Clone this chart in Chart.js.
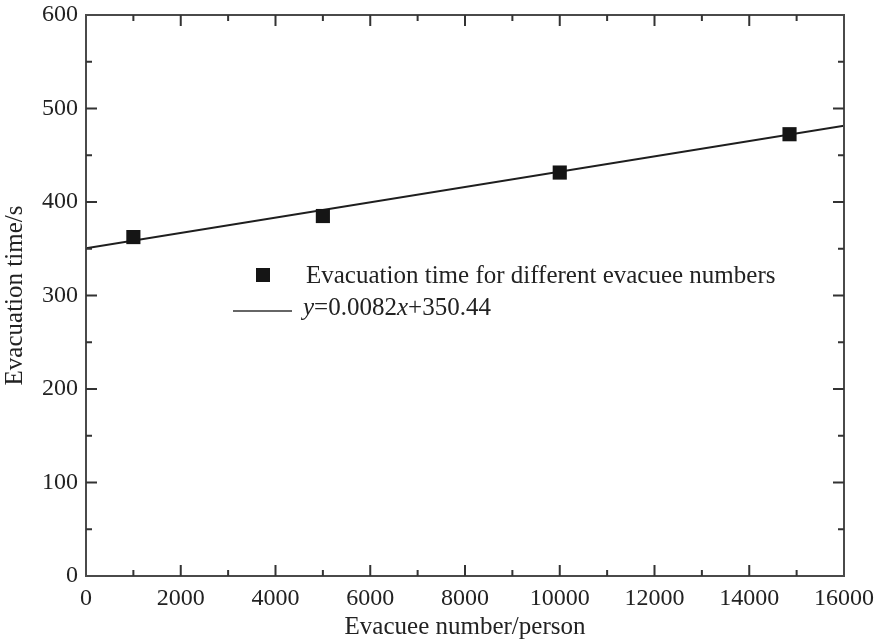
<!DOCTYPE html>
<html>
<head>
<meta charset="utf-8">
<script src="https://cdn.jsdelivr.net/npm/chart.js@4/dist/chart.umd.min.js"></script>
<style>
html, body { margin: 0; padding: 0; background: #fff; }
</style>
</head>
<body>
<canvas id="chart" width="880" height="642"></canvas>
<script>
const evacueeNumbers = [1000, 5000, 10000, 14850]
const evacuationTimes = [362.5, 385, 431.5, 472.5]
const fitSlope = 0.0082
const fitIntercept = 350.44
const fitRange = [0, 16000]
const xTicks = [0, 2000, 4000, 6000, 8000, 10000, 12000, 14000, 16000]
const yTicks = [0, 100, 200, 300, 400, 500, 600]

const serif = "'Liberation Serif', 'Times New Roman', serif"
const tickSize = 24
const textSize = 25

const pointData = evacueeNumbers.map((v, i) => ({ x: v, y: evacuationTimes[i] }))
const fitData = fitRange.map(v => ({ x: v, y: fitSlope * v + fitIntercept }))

// frame, inward ticks on all four sides, and the legend box
const frame = {
    id: "frame",
    afterDatasetsDraw(chart) {
        const { ctx, chartArea: a, scales } = chart
        const x = scales.x, y = scales.y
        ctx.save()
        ctx.strokeStyle = "#4a4a4a"
        ctx.lineWidth = 2
        ctx.strokeRect(a.left, a.top, a.right - a.left, a.bottom - a.top)

        const major = 11, minor = 6
        ctx.strokeStyle = "#333"
        ctx.beginPath()
        xTicks.forEach((v, i) => {
            const px = x.getPixelForValue(v)
            if (i > 0 && i < xTicks.length - 1) {
                ctx.moveTo(px, a.bottom); ctx.lineTo(px, a.bottom - major)
                ctx.moveTo(px, a.top); ctx.lineTo(px, a.top + major)
            }
            if (i < xTicks.length - 1) {
                const mx = x.getPixelForValue((v + xTicks[i + 1]) / 2)
                ctx.moveTo(mx, a.bottom); ctx.lineTo(mx, a.bottom - minor)
                ctx.moveTo(mx, a.top); ctx.lineTo(mx, a.top + minor)
            }
        })
        yTicks.forEach((v, i) => {
            const py = y.getPixelForValue(v)
            if (i > 0 && i < yTicks.length - 1) {
                ctx.moveTo(a.left, py); ctx.lineTo(a.left + major, py)
                ctx.moveTo(a.right, py); ctx.lineTo(a.right - major, py)
            }
            if (i < yTicks.length - 1) {
                const my = y.getPixelForValue((v + yTicks[i + 1]) / 2)
                ctx.moveTo(a.left, my); ctx.lineTo(a.left + minor, my)
                ctx.moveTo(a.right, my); ctx.lineTo(a.right - minor, my)
            }
        })
        ctx.stroke()

        // legend
        const pts = chart.data.datasets[0]
        ctx.fillStyle = pts.backgroundColor
        ctx.fillRect(256, 268, 14, 14)
        ctx.fillStyle = "#222"
        ctx.textBaseline = "middle"
        ctx.font = textSize + "px " + serif
        ctx.fillText(pts.label, 306, 276)

        ctx.strokeStyle = "#333"
        ctx.lineWidth = 1.5
        ctx.beginPath()
        ctx.moveTo(233, 311); ctx.lineTo(292, 311)
        ctx.stroke()

        const parts = [["y", true], ["=" + fitSlope.toFixed(4), false], ["x", true], ["+" + fitIntercept.toFixed(2), false]]
        let tx = 303
        parts.forEach(([s, italic]) => {
            ctx.font = (italic ? "italic " : "") + textSize + "px " + serif
            ctx.fillText(s, tx, 308)
            tx += ctx.measureText(s).width
        })
        ctx.restore()
    }
}

new Chart(document.getElementById("chart"), {
    type: "scatter",
    data: {
        datasets: [
            {
                label: "Evacuation time for different evacuee numbers",
                data: pointData,
                pointStyle: "rect",
                pointRadius: 10,
                pointBorderWidth: 0,
                backgroundColor: "#151515",
                borderColor: "#151515",
                order: 0
            },
            {
                type: "line",
                label: "fit",
                data: fitData,
                showLine: true,
                pointRadius: 0,
                borderColor: "#1e1e1e",
                borderWidth: 2,
                fill: false,
                order: 1
            }
        ]
    },
    options: {
        responsive: false,
        animation: false,
        devicePixelRatio: 1,
        layout: { padding: { left: 0, right: 36, top: 15, bottom: 0 } },
        plugins: { legend: { display: false }, tooltip: { enabled: false } },
        scales: {
            x: {
                type: "linear",
                min: 0, max: 16000,
                afterBuildTicks: s => { s.ticks = xTicks.map(v => ({ value: v })) },
                afterFit: s => { s.height = 66 },
                grid: { display: false },
                border: { display: false },
                ticks: { color: "#222", padding: 0, maxRotation: 0, callback: v => String(v), font: { family: serif, size: tickSize } },
                title: { display: true, text: "Evacuee number/person", color: "#222", padding: 0, font: { family: serif, size: textSize } }
            },
            y: {
                min: 0, max: 600,
                afterBuildTicks: s => { s.ticks = yTicks.map(v => ({ value: v })) },
                afterFit: s => { s.width = 86 },
                grid: { display: false },
                border: { display: false },
                ticks: { color: "#222", padding: 0, callback: v => String(v), font: { family: serif, size: tickSize } },
                title: { display: true, text: "Evacuation time/s", color: "#222", padding: 0, font: { family: serif, size: textSize } }
            }
        }
    },
    plugins: [frame]
})
</script>
</body>
</html>
